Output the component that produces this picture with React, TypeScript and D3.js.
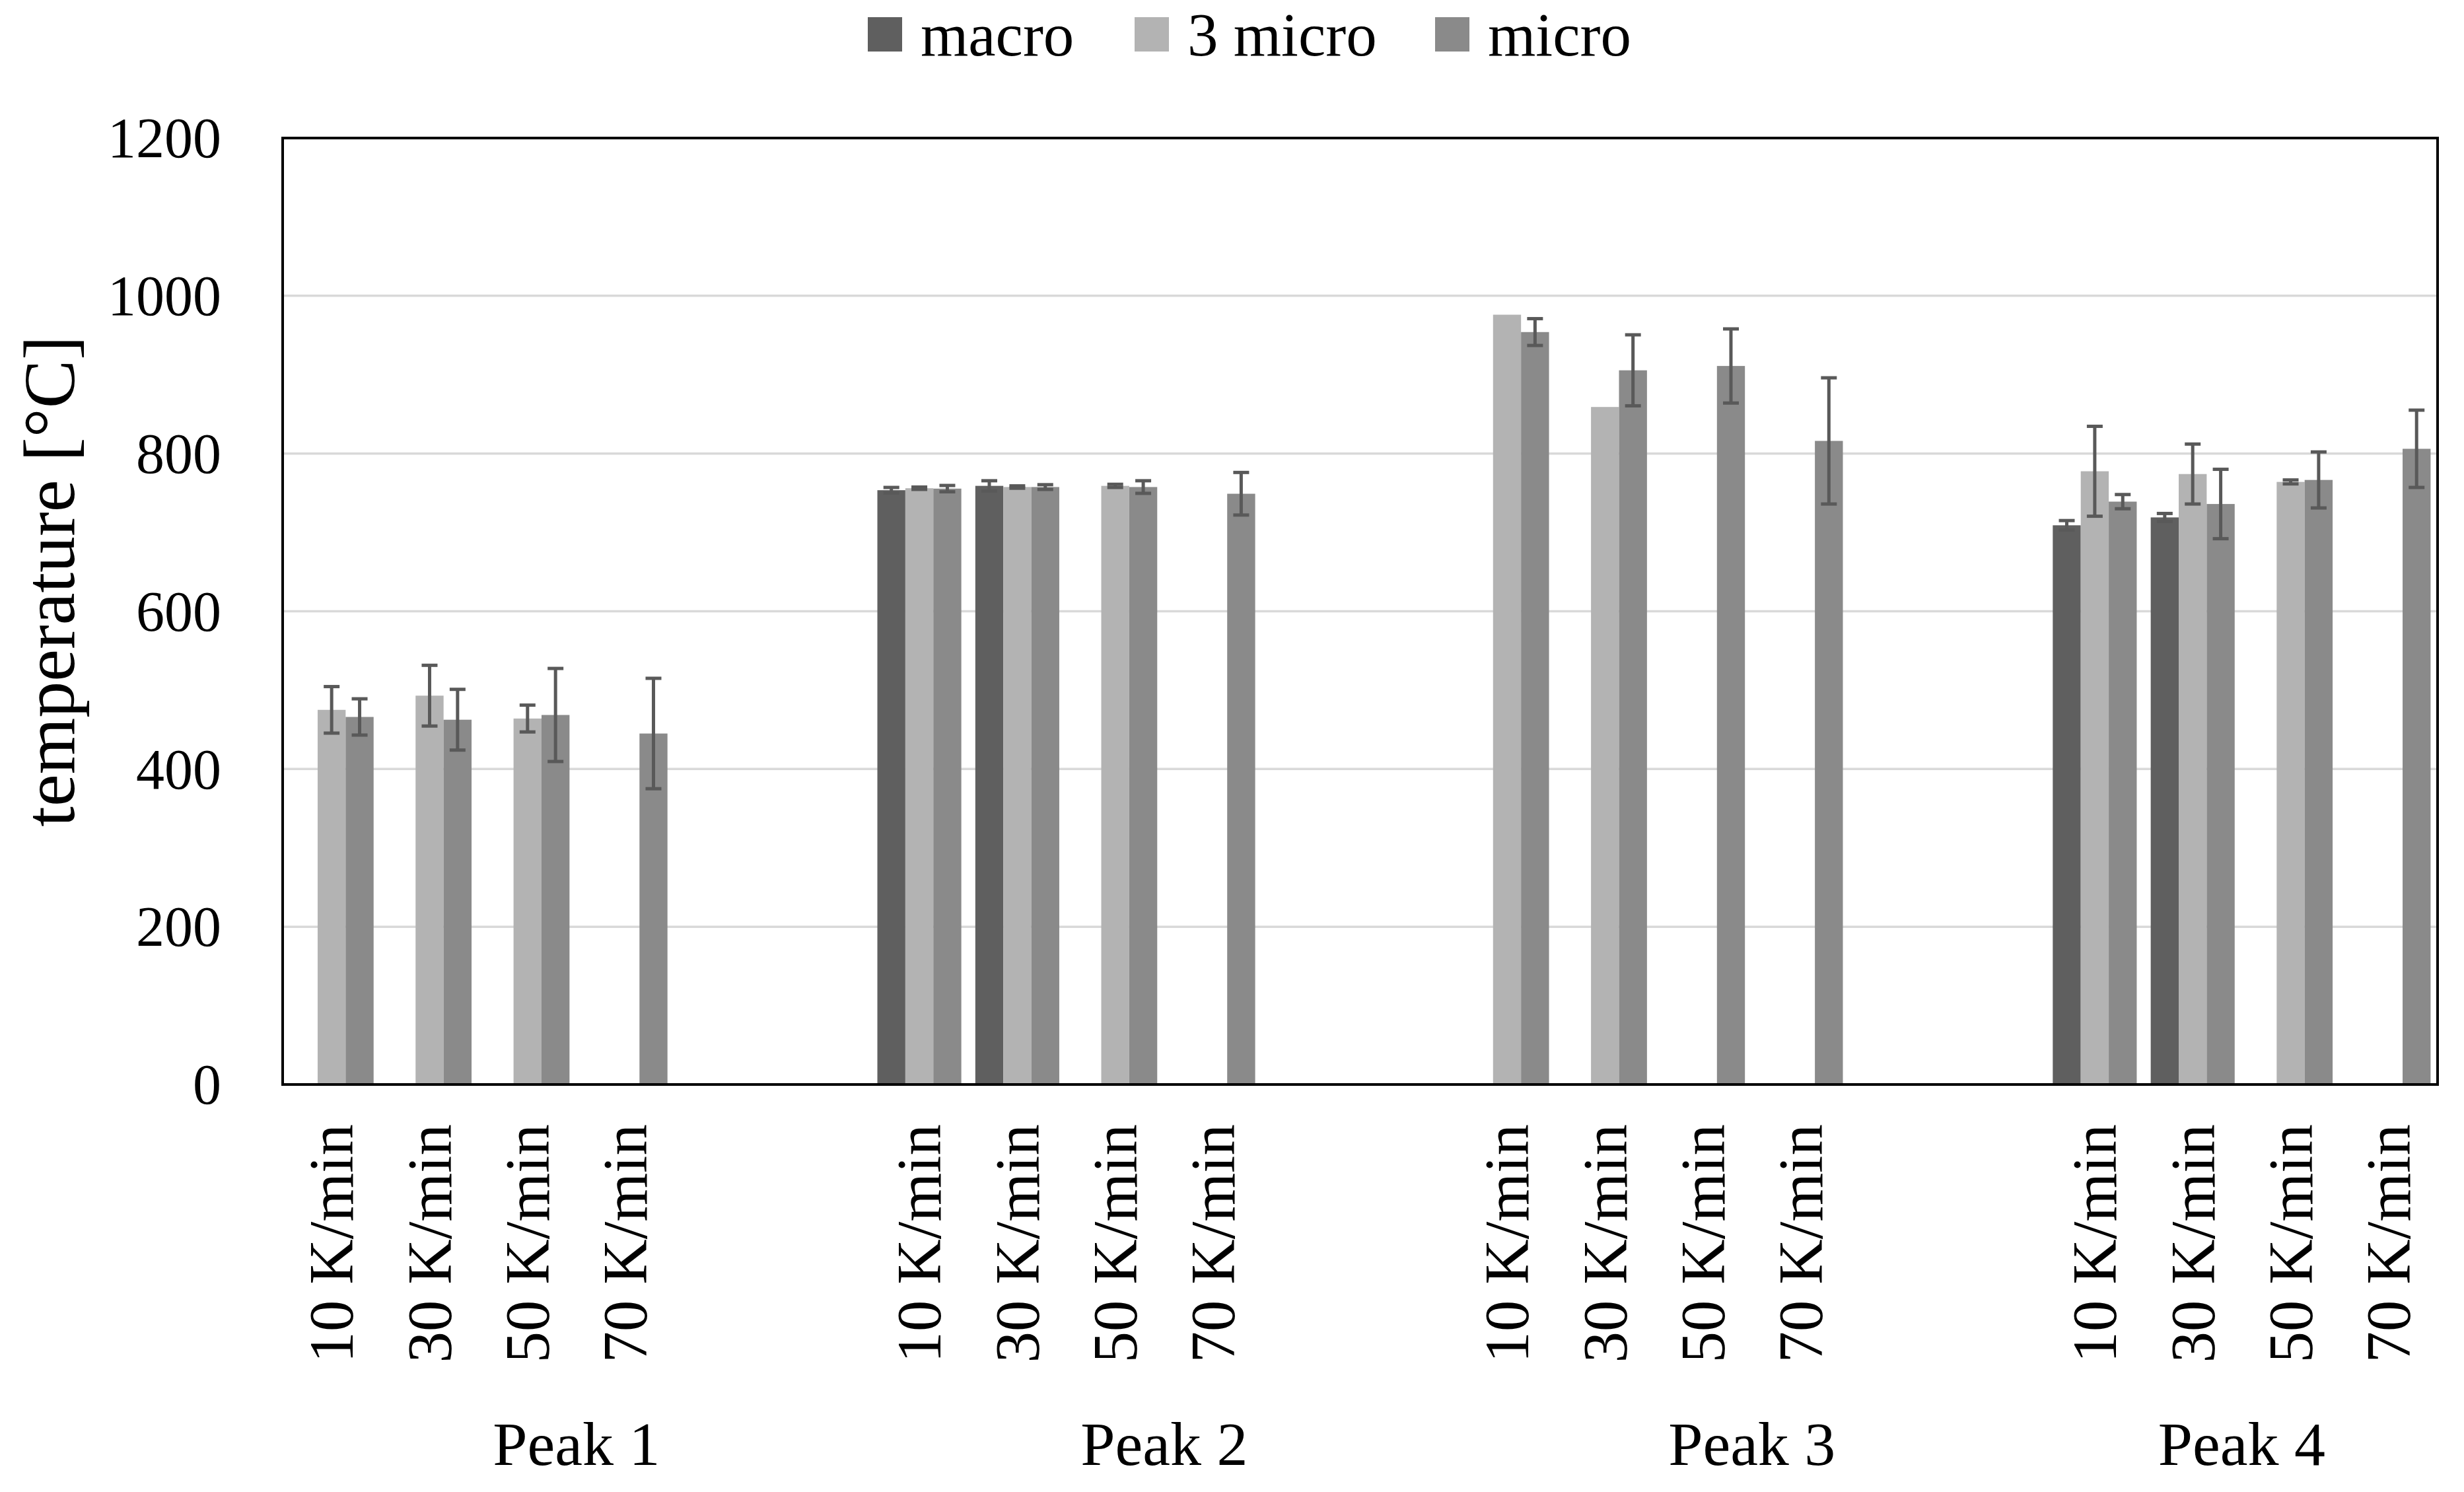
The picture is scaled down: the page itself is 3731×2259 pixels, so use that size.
import React from "react";
import * as d3 from "d3";

const series = ["macro", "3 micro", "micro"];
const seriesColors = ["#5f5f5f", "#b3b3b3", "#8a8a8a"];

const groups = ["Peak 1", "Peak 2", "Peak 3", "Peak 4"];
// each group: 4 rates + blank slots (except last)
const rateLabels = ["10 K/min", "30 K/min", "50 K/min", "70 K/min"];
const groupSlots = [6, 6, 6, 4];

const macroValues = [
  null, null, null, null, null, null,
  753.5, 759, null, null, null, null,
  null, null, null, null, null, null,
  709, 719, null, null,
];
const micro3Values = [
  475, 493, 464, null, null, null,
  756, 757.5, 759, null, null, null,
  976, 859, null, null, null, null,
  777.5, 774, 764, null,
];
const microValues = [
  466, 462.5, 468.5, 445, null, null,
  755.5, 757.5, 757.5, 749, null, null,
  954, 905.5, 911, 816, null, null,
  739, 736, 766.5, 806,
];

const macroErrors = [
  0, 0, 0, 0, 0, 0,
  3.5, 6.5, 0, 0, 0, 0,
  0, 0, 0, 0, 0, 0,
  6, 5, 0, 0,
];
const micro3Errors = [
  29.5, 38.5, 17, 0, 0, 0,
  1.5, 1.5, 2, 0, 0, 0,
  0, 0, 0, 0, 0, 0,
  57, 38, 2.5, 0,
];
const microErrors = [
  23, 38.5, 59, 70, 0, 0,
  4, 3, 8, 27, 0, 0,
  17, 45, 47, 80, 0, 0,
  9, 44, 35.5, 49,
];

const yTicks = [0, 200, 400, 600, 800, 1000, 1200];

const W = 3731;
const H = 2259;
const PL = 428, PR = 3691, PT = 209, PB = 1642;
const FONT = "'Liberation Serif', 'Times New Roman', serif";

export default function App() {
  const cats: { id: string; label: string; group: number }[] = [];
  groupSlots.forEach((n, g) => {
    for (let i = 0; i < n; i++) {
      cats.push({ id: `${g}-${i}`, label: i < 4 ? rateLabels[i] : "", group: g });
    }
  });
  const values = [macroValues, micro3Values, microValues];
  const errors = [macroErrors, micro3Errors, microErrors];

  const x = d3.scaleBand<string>().domain(cats.map((c) => c.id)).range([PL, PR]).padding(0);
  const bw = x.bandwidth();
  const xs = d3
    .scaleBand<string>()
    .domain(series)
    .range([0, bw])
    .paddingInner(0)
    .paddingOuter(0.25);
  const y = d3.scaleLinear().domain([0, 1200]).range([PB, PT]);

  const capHalf = 12;
  const legendX = [1314, 1718, 2173];

  return (
    <svg
      width={W}
      height={H}
      viewBox={`0 0 ${W} ${H}`}
      style={{ position: "absolute", left: 0, top: 0, background: "#fff" }}
      fontFamily={FONT}
    >
      <rect x={0} y={0} width={W} height={H} fill="#fff" />
      {yTicks
        .filter((t) => t > 0 && t < 1200)
        .map((t) => (
          <line key={t} x1={PL} x2={PR} y1={y(t)} y2={y(t)} stroke="#d9d9d9" strokeWidth={3.5} />
        ))}
      {series.map((s, si) =>
        cats.map((c, ci) => {
          const v = values[si][ci];
          if (v == null) return null;
          const bx = (x(c.id) as number) + (xs(s) as number);
          return (
            <rect
              key={`${si}-${ci}`}
              x={bx}
              y={y(v)}
              width={xs.bandwidth()}
              height={y(0) - y(v)}
              fill={seriesColors[si]}
            />
          );
        })
      )}
      {series.map((s, si) =>
        cats.map((c, ci) => {
          const v = values[si][ci];
          const e = errors[si][ci];
          if (v == null || !e) return null;
          const cx = (x(c.id) as number) + (xs(s) as number) + xs.bandwidth() / 2;
          return (
            <g key={`e-${si}-${ci}`} stroke="#595959" strokeWidth={5}>
              <line x1={cx} x2={cx} y1={y(v + e)} y2={y(v - e)} />
              <line x1={cx - capHalf} x2={cx + capHalf} y1={y(v + e)} y2={y(v + e)} />
              <line x1={cx - capHalf} x2={cx + capHalf} y1={y(v - e)} y2={y(v - e)} />
            </g>
          );
        })
      )}
      <rect x={PL} y={PT} width={PR - PL} height={PB - PT} fill="none" stroke="#000" strokeWidth={4} />
      {yTicks.map((t) => (
        <text key={t} x={335} y={y(t)} dy="0.34em" textAnchor="end" fontSize={86} fill="#000">
          {t}
        </text>
      ))}
      <text
        transform={`translate(112, 880) rotate(-90)`}
        textAnchor="middle"
        fontSize={110}
        fill="#000"
      >
        temperature [°C]
      </text>
      {cats.map((c) =>
        c.label ? (
          <text
            key={c.id}
            transform={`translate(${(x(c.id) as number) + bw / 2}, 1702) rotate(-90)`}
            dy="0.34em"
            textAnchor="end"
            fontSize={95}
            fill="#000"
          >
            {c.label}
          </text>
        ) : null
      )}
      {groups.map((g, gi) => {
        const ids = cats.filter((c) => c.group === gi).map((c) => c.id);
        const x0 = x(ids[0]) as number;
        const x1 = (x(ids[ids.length - 1]) as number) + bw;
        return (
          <text key={g} x={(x0 + x1) / 2} y={2218} textAnchor="middle" fontSize={94} fill="#000">
            {g}
          </text>
        );
      })}
      {series.map((s, si) => (
        <g key={s}>
          <rect x={legendX[si]} y={26} width={52} height={52} fill={seriesColors[si]} />
          <text x={legendX[si] + 80} y={84} fontSize={93} fill="#000">
            {s}
          </text>
        </g>
      ))}
    </svg>
  );
}
